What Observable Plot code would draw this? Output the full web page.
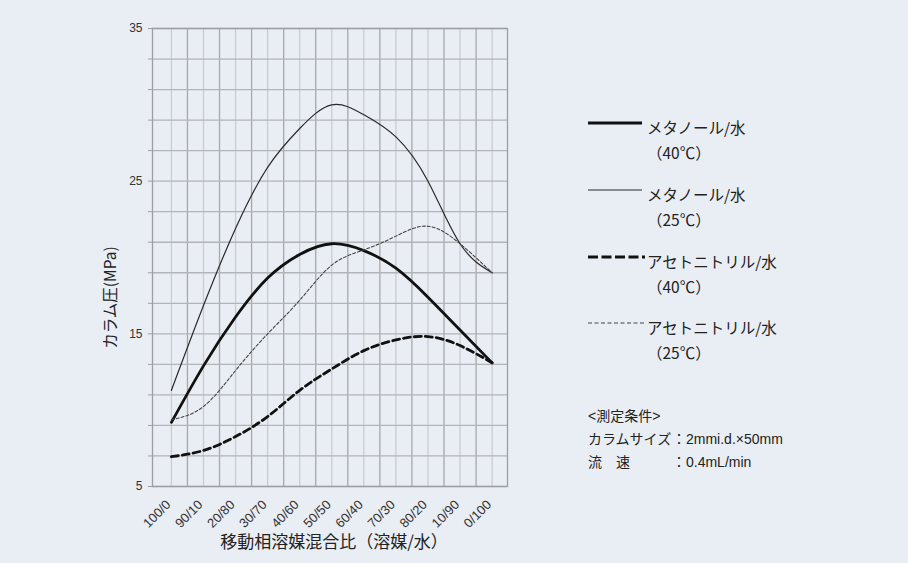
<!DOCTYPE html>
<html>
<head>
<meta charset="utf-8">
<script src="https://cdn.jsdelivr.net/npm/d3@7"></script>
<script src="https://cdn.jsdelivr.net/npm/@observablehq/plot@0.6"></script>
<style>
  html, body { margin: 0; padding: 0; background: #e9eef4; }
  #wrap { position: relative; width: 908px; height: 563px; background: #e9eef4;
          font-family: "Liberation Sans", "Noto Sans CJK JP", sans-serif; color: #222; }
  #chart { position: absolute; left: 0; top: 0; }
  .item { position: absolute; left: 588px; }
  .item svg { position: absolute; left: 0; }
  .item .txt { position: absolute; left: 59px; font-size: 15.5px; line-height: 25px; white-space: nowrap;
               font-family: "Noto Sans CJK JP", sans-serif; color: #222; }
  #notes { position: absolute; left: 588px; top: 405px; font-size: 14px; line-height: 23px; color: #222; }
  #notes .lab { display: inline-block; width: 84px; }
</style>
</head>
<body>
<div id="wrap"><div id="chart"></div><div id="legend"></div><div id="notes"></div></div>
<script>
// ---- data ----
const xLabels = ["100/0","90/10","20/80","30/70","40/60","50/50","60/40","70/30","80/20","10/90","0/100"];
const methanol40     = [9.2, 12.9, 16.1, 18.65, 20.2, 20.9, 20.45, 19.3, 17.4, 15.25, 13.1];
const methanol25     = [11.3, 16.85, 21.9, 25.9, 28.45, 30.0, 29.35, 27.9, 25.0, 20.9, 19.0];
const acetonitrile40 = [6.95, 7.36, 8.27, 9.58, 11.3, 12.7, 13.9, 14.6, 14.82, 14.23, 13.1];
const acetonitrile25 = [9.37, 10.24, 12.6, 15.0, 17.2, 19.5, 20.5, 21.4, 22.05, 20.9, 19.0];
const yTicks = d3.range(5, 36, 2);
const yLabelTicks = [5, 15, 25, 35];
const seriesNames = ["メタノール/水", "メタノール/水", "アセトニトリル/水", "アセトニトリル/水"];
const seriesTemps = ["（40℃）", "（25℃）", "（40℃）", "（25℃）"];
const yTitle = "カラム圧(MPa)";
const xTitle = "移動相溶媒混合比（溶媒/水）";
const noteTitle = "<測定条件>";
const noteLabels = ["カラムサイズ", "流　速"];
const noteValues = ["：2mmi.d.×50mm", "：0.4mL/min"];

// ---- styles ----
const styles = [
  {stroke: "#111", strokeWidth: 2.8, dash: null},
  {stroke: "#2a2a2a", strokeWidth: 1.2, dash: null},
  {stroke: "#111", strokeWidth: 2.8, dash: "7,4"},
  {stroke: "#444", strokeWidth: 1.1, dash: "3,2"}
];
const seriesValues = [methanol40, methanol25, acetonitrile40, acetonitrile25];
const toRows = arr => arr.map((v, i) => ({i, v}));

const intLines = d3.range(0, 11);
const halfLines = d3.range(0.5, 10, 1);

const lineMarks = seriesValues.map((vals, k) => Plot.line(toRows(vals), {
  x: "i", y: "v", curve: "natural",
  stroke: styles[k].stroke, strokeWidth: styles[k].strokeWidth,
  strokeDasharray: styles[k].dash || undefined
}));

const chart = Plot.plot({
  width: 908, height: 563,
  marginLeft: 152, marginRight: 401, marginTop: 28, marginBottom: 77,
  style: {background: "transparent", fontFamily: "'Liberation Sans', 'Noto Sans CJK JP', sans-serif", color: "#333"},
  x: {domain: [-0.59, 10.48], axis: null},
  y: {domain: [5, 35]},
  marks: [
    Plot.ruleX(intLines, {stroke: "#c9cdd2", strokeWidth: 1.3}),
    Plot.ruleX(halfLines, {stroke: "#a6a8ab", strokeWidth: 1.3}),
    Plot.ruleY(yTicks, {stroke: "#b1b4b8", strokeWidth: 1.3}),
    Plot.frame({stroke: "#9c9ea1", strokeWidth: 1.3}),
    ...lineMarks,
    Plot.axisY({ticks: yTicks, tickSize: 4, tickPadding: 6, stroke: "#9c9ea1",
      tickFormat: d => yLabelTicks.includes(d) ? String(d) : "", fontSize: 12, label: null}),
    Plot.text([yTitle], {frameAnchor: "left", textAnchor: "middle", dx: -41, dy: 40, rotate: -90,
      fontSize: 15.5, fill: "#222", fontFamily: "'Noto Sans CJK JP', sans-serif"}),
    Plot.text(xLabels, {x: (d, i) => i, frameAnchor: "bottom", rotate: -45, textAnchor: "end",
      dx: 0, dy: 19, fontSize: 13, fill: "#333"}),
    Plot.text([xTitle], {frameAnchor: "bottom", textAnchor: "middle", dx: 4, dy: 61, fontSize: 17,
      fill: "#222", fontFamily: "'Noto Sans CJK JP', sans-serif"})
  ]
});
document.getElementById("chart").appendChild(chart);

// ---- legend (HTML) ----
const legendTops = [110, 177, 244, 310];
const legend = document.getElementById("legend");
seriesNames.forEach((name, k) => {
  const st = styles[k];
  const div = document.createElement("div");
  div.className = "item";
  div.style.top = legendTops[k] + "px";
  div.innerHTML =
    `<svg width="58" height="30" style="top:0px">` +
    `<line x1="0" x2="${k >= 2 ? 57 : 54}" y1="13" y2="13" stroke="${st.stroke}" stroke-width="${st.strokeWidth}"` +
    (st.dash ? ` stroke-dasharray="${k === 2 ? '10,3.5' : '4,2.5'}"` : "") + `/></svg>` +
    `<div class="txt" style="top:5px">${name}<br>${seriesTemps[k]}</div>`;
  legend.appendChild(div);
});

// ---- notes ----
const notes = document.getElementById("notes");
notes.innerHTML = `<div>${noteTitle.replace("<", "&lt;").replace(">", "&gt;")}</div>` +
  noteLabels.map((l, k) => `<div><span class="lab">${l}</span>${noteValues[k]}</div>`).join("");
</script>
</body>
</html>
